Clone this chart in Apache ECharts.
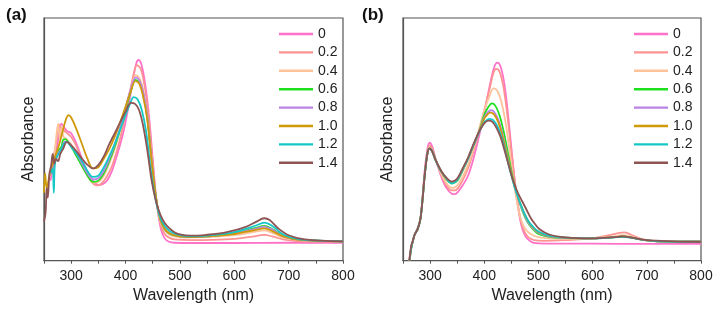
<!DOCTYPE html>
<html>
<head>
<meta charset="utf-8">
<script src="https://cdn.jsdelivr.net/npm/echarts@6/dist/echarts.min.js"></script>
<style>
  html, body { margin: 0; padding: 0; background: #fff; }
  #chart { width: 719px; height: 316px; }
</style>
</head>
<body>
<div id="chart"></div>
<script>
// series names (doping level) and colours
const seriesNames = ['0', '0.2', '0.4', '0.6', '0.8', '1.0', '1.2', '1.4']
const seriesColors = ['#FF72C8', '#FF9292', '#FFC39C', '#1EE01E', '#B983E6', '#CF9A08', '#14C8C8', '#8E5454']

// panel (a): [wavelength nm, absorbance a.u.]
const a0 = [[262,0.33],[268,0.4],[274,0.47],[278,0.53],[282,0.565],[287,0.55],[292,0.535],[300,0.525],[310,0.48],[320,0.42],[330,0.365],[340,0.33],[350,0.312],[358,0.315],[366,0.33],[375,0.37],[385,0.44],[395,0.52],[405,0.63],[413,0.74],[420,0.815],[424,0.827],[429,0.81],[436,0.73],[443,0.6],[450,0.42],[457,0.245],[465,0.13],[472,0.092],[480,0.078],[490,0.074],[520,0.073],[600,0.073],[700,0.074],[800,0.074]]
const a02 = [[265,0.4],[272,0.48],[278,0.56],[283,0.545],[290,0.53],[300,0.51],[310,0.47],[320,0.41],[330,0.355],[340,0.318],[348,0.31],[356,0.318],[365,0.345],[375,0.39],[385,0.46],[395,0.55],[405,0.66],[413,0.75],[421,0.806],[428,0.79],[435,0.72],[442,0.6],[450,0.4],[457,0.245],[465,0.145],[472,0.11],[480,0.095],[490,0.088],[520,0.085],[560,0.086],[600,0.09],[630,0.098],[655,0.106],[670,0.1],[690,0.088],[720,0.08],[800,0.078]]
const a04 = [[262,0.38],[268,0.42],[272,0.5],[276,0.565],[279,0.5],[282,0.55],[286,0.51],[292,0.5],[300,0.48],[310,0.44],[320,0.39],[330,0.35],[340,0.322],[350,0.325],[360,0.35],[370,0.4],[380,0.46],[390,0.54],[400,0.63],[410,0.71],[419,0.765],[426,0.75],[433,0.7],[440,0.59],[448,0.42],[456,0.26],[464,0.16],[472,0.125],[480,0.108],[490,0.1],[510,0.095],[550,0.097],[600,0.105],[640,0.12],[655,0.125],[670,0.115],[690,0.095],[720,0.085],[800,0.08]]
const a06 = [[270,0.4],[276,0.45],[282,0.47],[286,0.5],[290,0.5],[294,0.49],[300,0.47],[310,0.43],[320,0.39],[330,0.35],[340,0.325],[350,0.33],[360,0.36],[370,0.41],[380,0.47],[390,0.54],[400,0.62],[410,0.7],[418,0.745],[425,0.735],[432,0.69],[440,0.59],[448,0.41],[456,0.26],[464,0.17],[472,0.13],[480,0.113],[490,0.104],[500,0.1],[520,0.097],[550,0.1],[600,0.113],[640,0.135],[655,0.143],[670,0.13],[690,0.102],[720,0.087],[800,0.08]]
const a08 = [[268,0.38],[275,0.44],[282,0.46],[288,0.49],[292,0.49],[300,0.47],[310,0.44],[320,0.4],[330,0.36],[340,0.335],[350,0.34],[360,0.37],[370,0.42],[380,0.48],[390,0.55],[400,0.63],[410,0.71],[419,0.755],[426,0.74],[433,0.69],[440,0.59],[448,0.41],[456,0.26],[464,0.17],[472,0.132],[480,0.114],[490,0.105],[500,0.1],[520,0.097],[550,0.1],[600,0.112],[640,0.132],[655,0.14],[670,0.128],[690,0.1],[720,0.086],[800,0.08]]
const a10 = [[250,0.28],[252,0.36],[255,0.3],[260,0.35],[266,0.4],[272,0.44],[278,0.48],[284,0.53],[290,0.58],[295,0.6],[300,0.59],[310,0.54],[320,0.48],[330,0.42],[340,0.38],[350,0.385],[360,0.42],[370,0.46],[380,0.51],[390,0.57],[400,0.635],[410,0.7],[418,0.74],[425,0.73],[432,0.68],[440,0.58],[448,0.41],[456,0.26],[464,0.17],[472,0.132],[480,0.114],[490,0.105],[500,0.1],[520,0.097],[550,0.1],[600,0.11],[640,0.127],[655,0.133],[670,0.122],[690,0.1],[720,0.086],[800,0.08]]
const a12 = [[263,0.36],[266,0.38],[268,0.28],[270,0.4],[274,0.43],[280,0.45],[286,0.48],[292,0.49],[300,0.47],[310,0.44],[320,0.41],[330,0.37],[340,0.345],[350,0.35],[360,0.385],[370,0.43],[380,0.48],[390,0.54],[400,0.6],[408,0.645],[415,0.674],[422,0.665],[430,0.62],[438,0.53],[446,0.38],[454,0.265],[462,0.19],[470,0.15],[480,0.125],[490,0.112],[500,0.105],[520,0.1],[550,0.103],[600,0.118],[640,0.145],[655,0.157],[670,0.143],[690,0.108],[720,0.088],[800,0.08]]
const a14 = [[250,0.16],[253,0.2],[255,0.3],[257,0.26],[260,0.36],[263,0.39],[266,0.44],[269,0.4],[272,0.42],[276,0.41],[280,0.44],[285,0.46],[292,0.49],[300,0.475],[310,0.45],[320,0.42],[330,0.395],[340,0.38],[350,0.395],[360,0.43],[370,0.48],[380,0.525],[390,0.57],[400,0.614],[410,0.65],[418,0.645],[425,0.62],[432,0.56],[440,0.456],[448,0.33],[456,0.245],[464,0.19],[472,0.155],[480,0.135],[490,0.117],[500,0.108],[520,0.103],[550,0.107],[580,0.115],[600,0.125],[620,0.138],[640,0.16],[655,0.175],[665,0.168],[680,0.135],[700,0.105],[730,0.088],[800,0.08]]

// panel (b)
const b0 = [[261,0],[264,0.04],[267,0.07],[270,0.1],[274,0.12],[278,0.14],[282,0.17],[286,0.26],[290,0.37],[295,0.46],[299,0.486],[304,0.47],[310,0.42],[320,0.35],[330,0.3],[340,0.276],[346,0.274],[352,0.285],[360,0.31],[370,0.35],[380,0.42],[390,0.51],[400,0.61],[410,0.72],[418,0.795],[424,0.816],[430,0.8],[437,0.73],[444,0.6],[452,0.42],[460,0.26],[468,0.15],[476,0.1],[485,0.08],[495,0.072],[520,0.07],[600,0.07],[700,0.069],[800,0.069]]
const b02 = [[262,0],[265,0.05],[268,0.08],[272,0.11],[277,0.13],[282,0.17],[286,0.26],[290,0.36],[295,0.45],[299,0.475],[304,0.46],[310,0.42],[320,0.36],[330,0.31],[340,0.29],[346,0.29],[352,0.3],[360,0.33],[370,0.38],[380,0.45],[390,0.53],[400,0.62],[410,0.71],[417,0.775],[422,0.79],[428,0.78],[435,0.72],[442,0.61],[450,0.45],[458,0.3],[466,0.18],[474,0.12],[482,0.095],[492,0.085],[510,0.082],[550,0.085],[600,0.092],[630,0.105],[650,0.115],[658,0.117],[670,0.108],[690,0.09],[720,0.08],[800,0.078]]
const b04 = [[262,0],[265,0.05],[268,0.08],[272,0.11],[277,0.13],[282,0.17],[286,0.25],[290,0.35],[295,0.44],[299,0.467],[304,0.455],[310,0.42],[320,0.36],[330,0.32],[340,0.3],[346,0.302],[352,0.315],[360,0.345],[370,0.395],[380,0.46],[390,0.54],[400,0.62],[410,0.68],[417,0.71],[424,0.7],[432,0.65],[440,0.56],[448,0.43],[456,0.3],[464,0.2],[472,0.145],[480,0.12],[490,0.105],[500,0.097],[520,0.092],[550,0.09],[600,0.092],[640,0.1],[655,0.105],[670,0.1],[690,0.088],[720,0.08],[800,0.078]]
const b06 = [[262,0],[265,0.05],[268,0.08],[272,0.11],[277,0.13],[282,0.17],[286,0.25],[290,0.35],[295,0.44],[299,0.463],[304,0.45],[310,0.415],[320,0.37],[330,0.335],[340,0.318],[346,0.322],[352,0.335],[360,0.37],[370,0.42],[380,0.475],[390,0.53],[400,0.6],[408,0.635],[414,0.648],[420,0.64],[428,0.6],[436,0.53],[444,0.44],[452,0.35],[460,0.28],[468,0.22],[476,0.175],[484,0.145],[492,0.125],[500,0.11],[520,0.098],[550,0.093],[600,0.092],[640,0.097],[655,0.1],[670,0.096],[690,0.087],[720,0.08],[800,0.078]]
const b08 = [[262,0],[265,0.05],[268,0.08],[272,0.11],[277,0.13],[282,0.17],[286,0.25],[290,0.35],[295,0.44],[299,0.463],[304,0.45],[310,0.415],[320,0.37],[330,0.337],[340,0.32],[346,0.324],[352,0.338],[360,0.372],[370,0.42],[380,0.475],[390,0.53],[400,0.59],[406,0.61],[412,0.62],[418,0.614],[426,0.58],[434,0.52],[442,0.44],[450,0.36],[458,0.29],[466,0.235],[474,0.19],[482,0.155],[490,0.133],[500,0.115],[520,0.1],[550,0.094],[600,0.092],[640,0.097],[655,0.1],[670,0.096],[690,0.087],[720,0.08],[800,0.078]]
const b10 = [[262,0],[265,0.05],[268,0.08],[272,0.11],[277,0.13],[282,0.17],[286,0.25],[290,0.35],[295,0.44],[299,0.463],[304,0.45],[310,0.415],[320,0.37],[330,0.338],[340,0.322],[346,0.326],[352,0.34],[360,0.374],[370,0.42],[380,0.475],[390,0.53],[400,0.585],[406,0.603],[411,0.61],[418,0.603],[426,0.57],[434,0.51],[442,0.435],[450,0.36],[458,0.29],[466,0.24],[474,0.195],[482,0.16],[490,0.137],[500,0.118],[520,0.102],[550,0.095],[600,0.092],[640,0.097],[655,0.1],[670,0.096],[690,0.087],[720,0.08],[800,0.078]]
const b12 = [[262,0],[265,0.05],[268,0.08],[272,0.11],[277,0.13],[282,0.17],[286,0.25],[290,0.35],[295,0.44],[299,0.463],[304,0.45],[310,0.415],[320,0.37],[330,0.34],[340,0.319],[346,0.324],[352,0.34],[360,0.375],[370,0.42],[380,0.475],[390,0.528],[400,0.57],[405,0.58],[410,0.584],[417,0.578],[425,0.55],[433,0.5],[441,0.43],[449,0.36],[457,0.295],[465,0.245],[473,0.2],[481,0.165],[490,0.14],[500,0.12],[520,0.103],[550,0.095],[600,0.092],[640,0.096],[655,0.098],[670,0.095],[690,0.087],[720,0.08],[800,0.078]]
const b14 = [[262,0],[265,0.06],[268,0.08],[272,0.11],[277,0.13],[282,0.17],[286,0.25],[290,0.35],[295,0.44],[299,0.463],[304,0.45],[310,0.415],[320,0.372],[330,0.342],[340,0.326],[346,0.33],[352,0.345],[360,0.38],[370,0.425],[380,0.48],[390,0.53],[400,0.566],[408,0.577],[415,0.572],[422,0.55],[430,0.51],[438,0.45],[446,0.385],[454,0.325],[462,0.28],[470,0.245],[478,0.21],[486,0.175],[494,0.15],[502,0.13],[520,0.108],[550,0.096],[600,0.092],[640,0.097],[655,0.1],[670,0.096],[700,0.085],[750,0.08],[800,0.078]]

const dataA = [a0, a02, a04, a06, a08, a10, a12, a14]
const dataB = [b0, b02, b04, b06, b08, b10, b12, b14]

const xTickInterval = 50
const xMin = 250
const xMax = 800

const font = "'Liberation Sans', Arial, sans-serif"
const frameColor = '#555'

const makeX = (gridIndex) => ({
  type: 'value',
  gridIndex,
  min: xMin,
  max: xMax,
  interval: xTickInterval,
  name: 'Wavelength (nm)',
  nameLocation: 'middle',
  nameGap: 26,
  nameTextStyle: { fontSize: 16, color: '#222', fontFamily: font },
  axisLine: { lineStyle: { color: frameColor, width: 1.2 } },
  axisTick: { show: true, inside: false, length: 3, lineStyle: { color: frameColor, width: 1 } },
  axisLabel: {
    margin: 8,
    fontSize: 14,
    color: '#222',
    fontFamily: font,
    formatter: (v) => (v % 100 === 0 && v !== xMin ? String(v) : '')
  },
  splitLine: { show: false }
})

const makeY = (gridIndex) => ({
  type: 'value',
  gridIndex,
  min: 0,
  max: 1,
  name: 'Absorbance',
  nameLocation: 'middle',
  nameGap: 7,
  nameTextStyle: { fontSize: 16, color: '#222', fontFamily: font },
  axisLine: { show: true, lineStyle: { color: frameColor, width: 1.2 } },
  axisTick: { show: false },
  axisLabel: { show: false },
  splitLine: { show: false }
})

const makeSeries = (data, gridIndex) => data.map((d, i) => ({
  name: seriesNames[i],
  type: 'line',
  xAxisIndex: gridIndex,
  yAxisIndex: gridIndex,
  data: d,
  symbol: 'none',
  smooth: 0.35,
  lineStyle: { width: 1.8, color: seriesColors[i] },
  itemStyle: { color: seriesColors[i] },
  z: 2 + i
}))

const makeLegend = (left) => ({
  data: seriesNames.map(n => ({ name: n, icon: 'rect' })),
  orient: 'vertical',
  left,
  top: 27,
  padding: 0,
  itemWidth: 34,
  itemHeight: 2.4,
  itemGap: 4.4,
  selectedMode: false,
  textStyle: { fontSize: 14, color: '#222', fontFamily: font, lineHeight: 14 }
})

const chart = echarts.init(document.getElementById('chart'), null, { renderer: 'canvas' })

chart.setOption({
  animation: false,
  backgroundColor: '#fff',
  color: seriesColors,
  title: [
    { text: '(a)', left: 6, top: 7, padding: 0, textStyle: { fontSize: 17, fontWeight: 'bold', color: '#111', fontFamily: font } },
    { text: '(b)', left: 362, top: 7, padding: 0, textStyle: { fontSize: 17, fontWeight: 'bold', color: '#111', fontFamily: font } }
  ],
  legend: [makeLegend(279), makeLegend(634)],
  grid: [
    { left: 44, top: 18, width: 299, height: 242.7, show: true, borderColor: frameColor, borderWidth: 1.2, backgroundColor: 'transparent' },
    { left: 403, top: 18, width: 298, height: 242.7, show: true, borderColor: frameColor, borderWidth: 1.2, backgroundColor: 'transparent' }
  ],
  xAxis: [makeX(0), makeX(1)],
  yAxis: [makeY(0), makeY(1)],
  series: [...makeSeries(dataA, 0), ...makeSeries(dataB, 1)]
})
</script>
</body>
</html>
